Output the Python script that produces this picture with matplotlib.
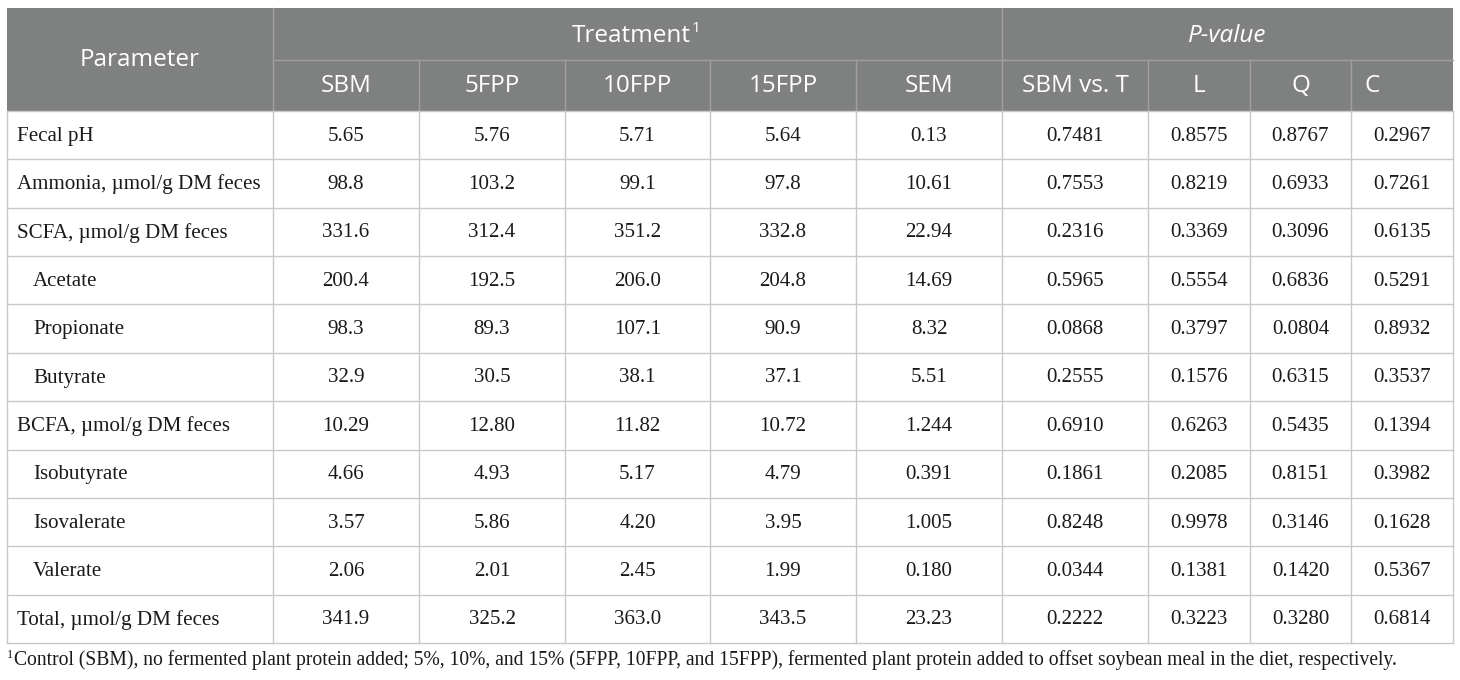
import matplotlib
matplotlib.use("Agg")
import matplotlib.pyplot as plt
from matplotlib.patches import Rectangle

params = ["Fecal pH", "Ammonia, \u00b5mol/g DM feces", "SCFA, \u00b5mol/g DM feces",
          "Acetate", "Propionate", "Butyrate", "BCFA, \u00b5mol/g DM feces",
          "Isobutyrate", "Isovalerate", "Valerate", "Total, \u00b5mol/g DM feces"]
indented = [False, False, False, True, True, True, False, True, True, True, False]
col_heads = ["SBM", "5FPP", "10FPP", "15FPP", "SEM", "SBM vs. T", "L", "Q", "C"]
sbm = ["5.65", "98.8", "331.6", "200.4", "98.3", "32.9", "10.29", "4.66", "3.57", "2.06", "341.9"]
fpp5 = ["5.76", "103.2", "312.4", "192.5", "89.3", "30.5", "12.80", "4.93", "5.86", "2.01", "325.2"]
fpp10 = ["5.71", "99.1", "351.2", "206.0", "107.1", "38.1", "11.82", "5.17", "4.20", "2.45", "363.0"]
fpp15 = ["5.64", "97.8", "332.8", "204.8", "90.9", "37.1", "10.72", "4.79", "3.95", "1.99", "343.5"]
sem = ["0.13", "10.61", "22.94", "14.69", "8.32", "5.51", "1.244", "0.391", "1.005", "0.180", "23.23"]
p_sbm_t = ["0.7481", "0.7553", "0.2316", "0.5965", "0.0868", "0.2555", "0.6910", "0.1861", "0.8248", "0.0344", "0.2222"]
p_l = ["0.8575", "0.8219", "0.3369", "0.5554", "0.3797", "0.1576", "0.6263", "0.2085", "0.9978", "0.1381", "0.3223"]
p_q = ["0.8767", "0.6933", "0.3096", "0.6836", "0.0804", "0.6315", "0.5435", "0.8151", "0.3146", "0.1420", "0.3280"]
p_c = ["0.2967", "0.7261", "0.6135", "0.5291", "0.8932", "0.3537", "0.1394", "0.3982", "0.1628", "0.5367", "0.6814"]
footnote = ("Control (SBM), no fermented plant protein added; 5%, 10%, and 15% (5FPP, 10FPP, and 15FPP), "
            "fermented plant protein added to offset soybean meal in the diet, respectively.")

columns = [sbm, fpp5, fpp10, fpp15, sem, p_sbm_t, p_l, p_q, p_c]

xs = [7, 273, 419, 565, 710, 856, 1002, 1148, 1250, 1351, 1453]
y_top, y_h1, y_h2, y_bot = 8, 60, 111, 643
row_h = (y_bot - y_h2) / len(params)

head_bg = "#7f8180"
grid = "#c8c8c8"
txt = "#1a1a1a"
sans = "Open Sans"
serif = "Liberation Serif"

fig = plt.figure(figsize=(14.6, 6.8), dpi=100)
ax = fig.add_axes([0, 0, 1, 1])
ax.set_xlim(0, 1460)
ax.set_ylim(680, 0)
ax.axis("off")
renderer = fig.canvas.get_renderer()


def right_edge(t):
    bb = t.get_window_extent(renderer=renderer)
    return ax.transData.inverted().transform((bb.x1, bb.y1))[0]


ax.add_patch(Rectangle((xs[0], y_top), xs[-1] - xs[0], y_h2 - y_top, color=head_bg, lw=0))

hl = "#a0a0a0"
ax.plot([xs[1], xs[-1]], [y_h1, y_h1], color=hl, lw=1)
for x in [xs[1], xs[6]]:
    ax.plot([x, x], [y_top, y_h2], color=hl, lw=1)
for x in xs[2:6] + xs[7:10]:
    ax.plot([x, x], [y_h1, y_h2], color=hl, lw=1)

hs = 17.5
ax.text((xs[0] + xs[1]) / 2, (y_top + y_h2) / 2 + 1, "Parameter", color="white", fontsize=hs,
        family=sans, ha="center", va="center")
t = ax.text((xs[1] + xs[6]) / 2 - 6, (y_top + y_h1) / 2 + 2, "Treatment", color="white", fontsize=hs,
            family=sans, ha="center", va="center")
ax.text(right_edge(t) + 1, (y_top + y_h1) / 2 - 5, "1", color="white", fontsize=11,
        family=sans, ha="left", va="center")
ax.text((xs[6] + xs[-1]) / 2, (y_top + y_h1) / 2 + 2, "P-value", color="white", fontsize=hs,
        family=sans, style="italic", ha="center", va="center")
for i, h in enumerate(col_heads):
    if h == "C":
        ax.text(xs[i + 1] + 14, (y_h1 + y_h2) / 2 + 1, h, color="white", fontsize=hs,
                family=sans, ha="left", va="center")
    else:
        ax.text((xs[i + 1] + xs[i + 2]) / 2, (y_h1 + y_h2) / 2 + 1, h, color="white", fontsize=hs,
                family=sans, ha="center", va="center")

for r in range(len(params) + 1):
    y = y_h2 + r * row_h
    ax.plot([xs[0], xs[-1]], [y, y], color=grid, lw=1)
for x in xs:
    ax.plot([x, x], [y_h2, y_bot], color=grid, lw=1)

ds = 15.1
for r, p in enumerate(params):
    yc = y_h2 + (r + 0.5) * row_h + 1
    ax.text(xs[0] + (26 if indented[r] else 10), yc, p, fontsize=ds, family=serif,
            ha="left", va="center", color=txt)
    for c, col in enumerate(columns):
        ax.text((xs[c + 1] + xs[c + 2]) / 2, yc, col[r], fontsize=ds, family=serif,
                ha="center", va="center", color=txt)

ax.text(xs[0], 655, "1", fontsize=9, family=serif, ha="left", va="center", color=txt)
ax.text(xs[0] + 7, 660, footnote, fontsize=14.1, family=serif, ha="left", va="center", color=txt)

fig.savefig("out.png", dpi=100)
